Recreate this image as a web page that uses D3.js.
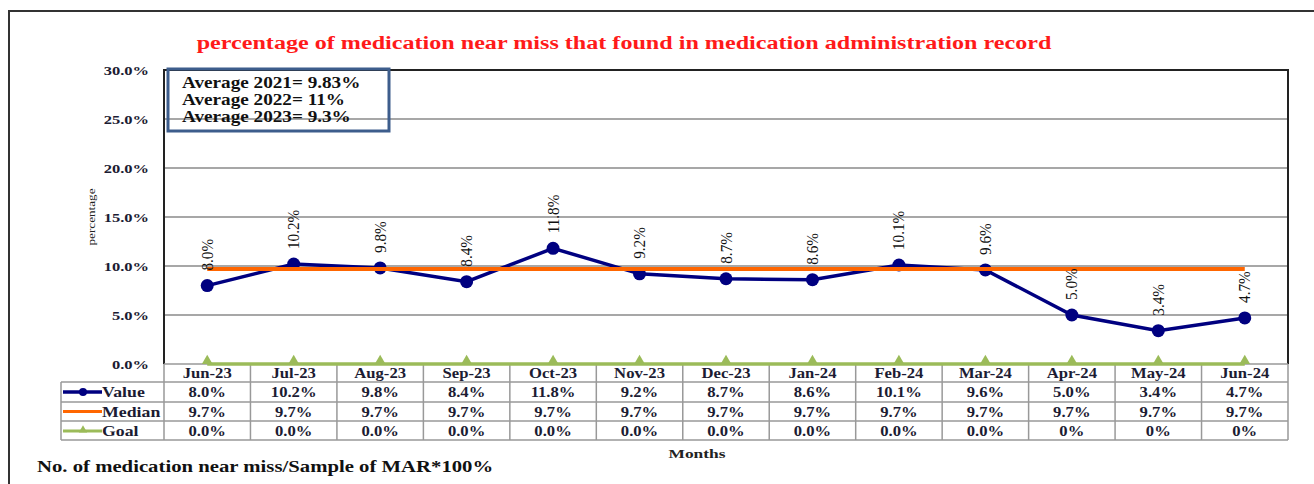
<!DOCTYPE html>
<html><head><meta charset="utf-8">
<script src="https://cdn.jsdelivr.net/npm/d3@7"></script>
<style>html,body{margin:0;padding:0;background:#fff;} svg{display:block;font-family:"Liberation Serif","Times New Roman",serif;}</style>
</head><body>
<svg id="c" width="1314" height="484"></svg>
<script>
const months = ["Jun-23","Jul-23","Aug-23","Sep-23","Oct-23","Nov-23","Dec-23","Jan-24","Feb-24","Mar-24","Apr-24","May-24","Jun-24"];
const valueSeries = [8.0,10.2,9.8,8.4,11.8,9.2,8.7,8.6,10.1,9.6,5.0,3.4,4.7];
const medianSeries = [9.7,9.7,9.7,9.7,9.7,9.7,9.7,9.7,9.7,9.7,9.7,9.7,9.7];
const goalSeries = [0,0,0,0,0,0,0,0,0,0,0,0,0];
const goalLabels = ["0.0%","0.0%","0.0%","0.0%","0.0%","0.0%","0.0%","0.0%","0.0%","0.0%","0%","0%","0%"];
const yTicks = [0,5,10,15,20,25,30];
const averages = ["Average 2021= 9.83%","Average 2022= 11%","Average 2023= 9.3%"];
const title = "percentage of medication near miss that found in medication administration record";

const svg = d3.select("#c");
const L=164,R=1288,T=70,B=364;
const x = d3.scaleBand().domain(months).range([L,R]);
const y = d3.scaleLinear().domain([0,30]).range([B,T]);
const cx = d => x(d)+x.bandwidth()/2;
const pct1 = d => d3.format(".1f")(d)+"%";

// stretched text helper
function stext(g, tx, ty, str, o){
  return g.append("text")
    .attr("transform",`translate(${tx},${ty})${o.rot?` rotate(${o.rot})`:""} scale(${o.sx||1},1)`)
    .attr("text-anchor",o.anchor||"start")
    .attr("font-weight",o.weight||"normal")
    .attr("font-size",o.size)
    .attr("fill",o.fill||"#111")
    .text(str);
}

// outer frame
svg.append("path").attr("d","M9,484 L9,11 L1314,11").attr("fill","none").attr("stroke","#333").attr("stroke-width",2);

// title
stext(svg,624,49,title,{size:19,weight:"bold",anchor:"middle",sx:1.27,fill:"#ff1a1a"});

// gridlines
svg.append("g").selectAll("line").data(yTicks.filter(t=>t>0)).join("line")
  .attr("x1",L).attr("x2",R).attr("y1",d=>y(d)).attr("y2",d=>y(d))
  .attr("stroke","#8a8a8a").attr("stroke-width",1.3);
// plot border
svg.append("path").attr("d",`M${L},${B} L${L},${T} L${R},${T} L${R},${B}`).attr("fill","none").attr("stroke","#222").attr("stroke-width",2);

// y tick labels
const yg = svg.append("g");
yTicks.forEach(t=>stext(yg,149,y(t)+4.5,pct1(t),{size:13,weight:"bold",anchor:"end",sx:1.27,fill:"#1c1c33"}));
stext(svg,95,217,"percentage",{size:11,anchor:"middle",rot:-90,sx:1.2,fill:"#222"});

// table
const tg = svg.append("g").attr("stroke","#999").attr("stroke-width",1.5);
tg.append("line").attr("x1",L).attr("x2",R).attr("y1",B).attr("y2",B);
[382,402,421,440].forEach(yy=>tg.append("line").attr("x1",61).attr("x2",R).attr("y1",yy).attr("y2",yy));
tg.append("line").attr("x1",61).attr("x2",61).attr("y1",382).attr("y2",440);
months.forEach(m=>tg.append("line").attr("x1",x(m)).attr("x2",x(m)).attr("y1",B).attr("y2",440));
tg.append("line").attr("x1",R).attr("x2",R).attr("y1",B).attr("y2",440);

const tt = svg.append("g");
const to = {size:14,weight:"bold",anchor:"middle",sx:1.19,fill:"#1c1c33"};
months.forEach((m,i)=>{
  stext(tt,cx(m),378,m,to);
  stext(tt,cx(m),397,pct1(valueSeries[i]),to);
  stext(tt,cx(m),416.5,pct1(medianSeries[i]),to);
  stext(tt,cx(m),435.5,goalLabels[i],to);
});

// legend cells
const lg = svg.append("g");
lg.append("line").attr("x1",63).attr("x2",102).attr("y1",392).attr("y2",392).attr("stroke","#000080").attr("stroke-width",3.5);
lg.append("circle").attr("cx",83).attr("cy",392).attr("r",4).attr("fill","#000080");
lg.append("line").attr("x1",63).attr("x2",102).attr("y1",411.5).attr("y2",411.5).attr("stroke","#ff6600").attr("stroke-width",3);
lg.append("line").attr("x1",63).attr("x2",102).attr("y1",431).attr("y2",431).attr("stroke","#9bbb59").attr("stroke-width",3);
lg.append("path").attr("d",d3.symbol(d3.symbolTriangle,30)()).attr("transform","translate(83,430)").attr("fill","#9bbb59");
[["Value",397],["Median",416.5],["Goal",435.5]].forEach(([t,yy])=>
  stext(lg,102,yy,t,{size:14,weight:"bold",sx:1.27,fill:"#1c1c33"}));

// goal line
const line = d3.line().x((d,i)=>cx(months[i])).y(d=>y(d));
svg.append("path").datum(goalSeries).attr("d",line).attr("fill","none").attr("stroke","#9bbb59").attr("stroke-width",3.5);
svg.append("g").selectAll("path").data(goalSeries).join("path")
  .attr("d",d3.symbol(d3.symbolTriangle,50)()).attr("transform",(d,i)=>`translate(${cx(months[i])},${y(d)-3})`).attr("fill","#9bbb59");

// value line
svg.append("path").datum(valueSeries).attr("d",line).attr("fill","none").attr("stroke","#000080").attr("stroke-width",3.5);
svg.append("g").selectAll("circle").data(valueSeries).join("circle")
  .attr("cx",(d,i)=>cx(months[i])).attr("cy",d=>y(d)).attr("r",6.5).attr("fill","#000080");
// median line
svg.append("path").datum(medianSeries).attr("d",line).attr("fill","none").attr("stroke","#ff6600").attr("stroke-width",4);

// data labels
const dl = svg.append("g");
valueSeries.forEach((v,i)=>stext(dl,cx(months[i])+5.5,y(v)-15,pct1(v),{size:16,rot:-90,sx:0.95,fill:"#111"}));

// averages box
svg.append("rect").attr("x",168).attr("y",69).attr("width",221).attr("height",62)
  .attr("fill","none").attr("stroke","#3d5d8c").attr("stroke-width",3);
const ag = svg.append("g");
averages.forEach((t,i)=>stext(ag,182,88+i*17,t,{size:16,weight:"bold",sx:1.2,fill:"#111"}));

// axis title and footnote
stext(svg,697,458,"Months",{size:12,weight:"bold",anchor:"middle",sx:1.45,fill:"#222"});
stext(svg,37,472,"No. of medication near miss/Sample of MAR*100%",{size:17,weight:"bold",sx:1.22,fill:"#111"});
</script>
</body></html>
